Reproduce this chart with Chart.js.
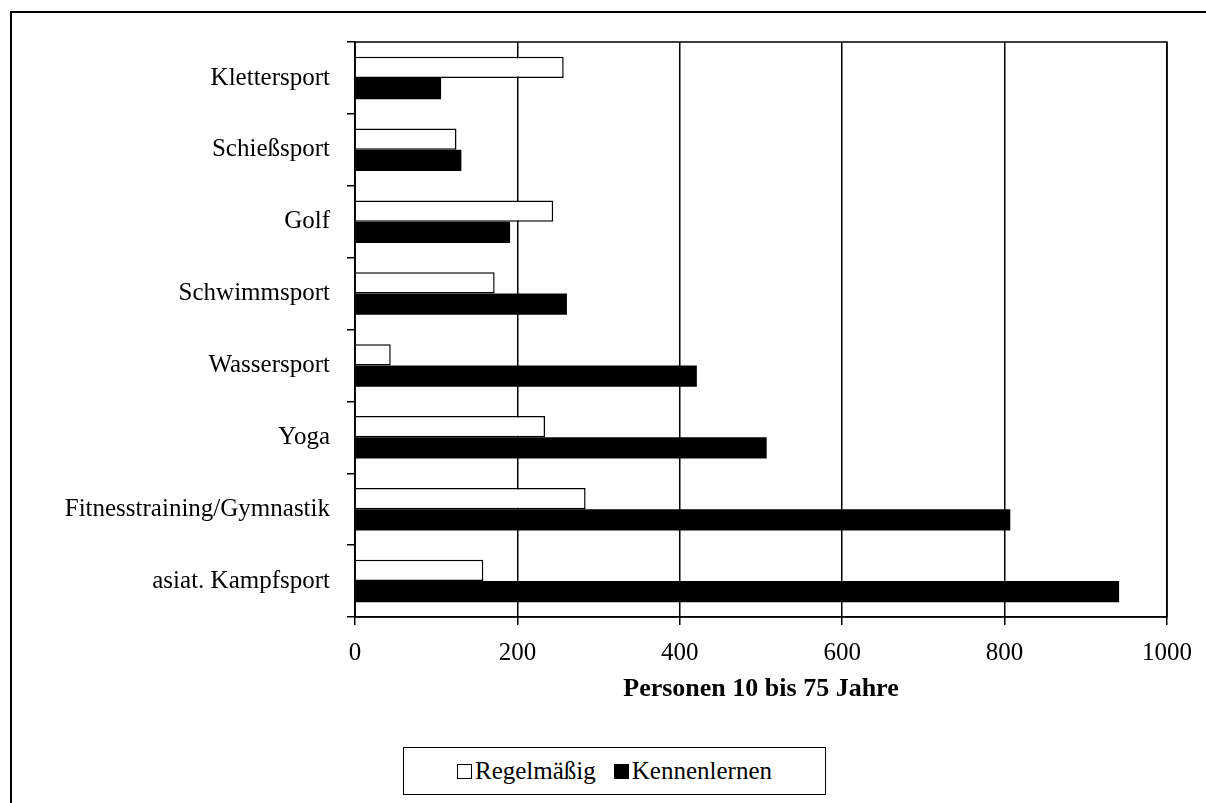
<!DOCTYPE html>
<html lang="de">
<head>
    <meta charset="UTF-8">
    <title>Sportarten</title>
    <script src="https://cdn.jsdelivr.net/npm/chart.js"></script>
</head>
<style>
    body { margin: 0; background: #fff; }
    #frame {
        position: absolute; left: 10px; top: 11px;
        width: 1300px; height: 900px;
        border: 2px solid #000;
    }
    #box { position: absolute; left: 0; top: 0; width: 1206px; height: 803px; }
    #legend {
        position: absolute; left: 403px; top: 747px;
        width: 421px; height: 46px;
        border: 1.5px solid #000; background: #fff;
        display: flex; align-items: center; justify-content: center;
        font-family: "Liberation Serif", serif; font-size: 25px; color: #000;
    }
    #legend .sq { display: inline-block; width: 15px; height: 15px; border: 1px solid #000; margin-right: 3px; box-sizing: border-box; }
    #legend span.item { display: flex; align-items: center; margin: 0 9px; }
</style>
<body>
    <div id="frame"></div>
    <div id="box">
        <canvas id="myChart" width="1206" height="803"></canvas>
    </div>
    <div id="legend"></div>

    <script>
        const categories = ['Klettersport', 'Schießsport', 'Golf', 'Schwimmsport', 'Wassersport', 'Yoga', 'Fitnesstraining/Gymnastik', 'asiat. Kampfsport'];
        const regelmaessig = [257, 125, 244, 172, 44, 234, 284, 158];
        const kennenlernen = [106, 131, 191, 261, 421, 507, 807, 941];
        const xTicks = [0, 200, 400, 600, 800, 1000];
        const seriesNames = ['Regelmäßig', 'Kennenlernen'];

        const serif = '"Liberation Serif", serif';

        // box around the plot area (top and right edges)
        const plotBorder = {
            id: 'plotBorder',
            afterDraw(chart) {
                const a = chart.chartArea;
                const ctx = chart.ctx;
                ctx.save();
                ctx.strokeStyle = '#000';
                ctx.lineWidth = 1.5;
                ctx.strokeRect(a.left, a.top, a.right - a.left, a.bottom - a.top);
                ctx.restore();
            }
        };

        const chart = new Chart(document.getElementById('myChart'), {
            type: 'bar',
            data: {
                labels: categories,
                datasets: [{
                    label: seriesNames[0],
                    data: regelmaessig,
                    backgroundColor: '#fff',
                    borderColor: '#000',
                    borderWidth: 1.5,
                    borderSkipped: 'left'
                }, {
                    label: seriesNames[1],
                    data: kennenlernen,
                    backgroundColor: '#000',
                    borderColor: '#000',
                    borderWidth: 0
                }]
            },
            options: {
                indexAxis: 'y',
                responsive: false,
                animation: false,
                categoryPercentage: 0.593,
                barPercentage: 1,
                layout: { padding: { top: 42, right: 39, left: 0, bottom: 98 } },
                plugins: {
                    legend: { display: false },
                    tooltip: { enabled: false }
                },
                scales: {
                    x: {
                        min: 0, max: 1000,
                        afterBuildTicks(scale) { scale.ticks = xTicks.map(v => ({ value: v })); },
                        afterFit(scale) { scale.height = 88; },
                        grid: { color: '#000', lineWidth: 1.5, tickLength: 8, drawTicks: true },
                        border: { color: '#000', width: 1.5 },
                        ticks: {
                            color: '#000', font: { family: serif, size: 25 }, padding: 13, maxRotation: 0,
                            callback: v => String(v)
                        },
                        title: {
                            display: true,
                            text: 'Personen 10 bis 75 Jahre',
                            color: '#000',
                            font: { family: serif, size: 26, weight: 'bold' },
                            padding: { top: 8, bottom: 0 }
                        }
                    },
                    y: {
                        afterFit(scale) { scale.width = 355; },
                        grid: { drawOnChartArea: false, color: '#000', lineWidth: 1.5, tickLength: 8, offset: true },
                        border: { color: '#000', width: 1.5 },
                        ticks: { color: '#000', font: { family: serif, size: 25 }, padding: 17 }
                    }
                }
            },
            plugins: [plotBorder]
        });

        // custom legend box below the chart
        const legendDiv = document.getElementById('legend');
        chart.data.datasets.forEach(ds => {
            const item = document.createElement('span');
            item.className = 'item';
            item.innerHTML = `<span class="sq" style="background:${ds.backgroundColor}"></span>${ds.label}`;
            legendDiv.appendChild(item);
        });
    </script>
</body>
</html>
